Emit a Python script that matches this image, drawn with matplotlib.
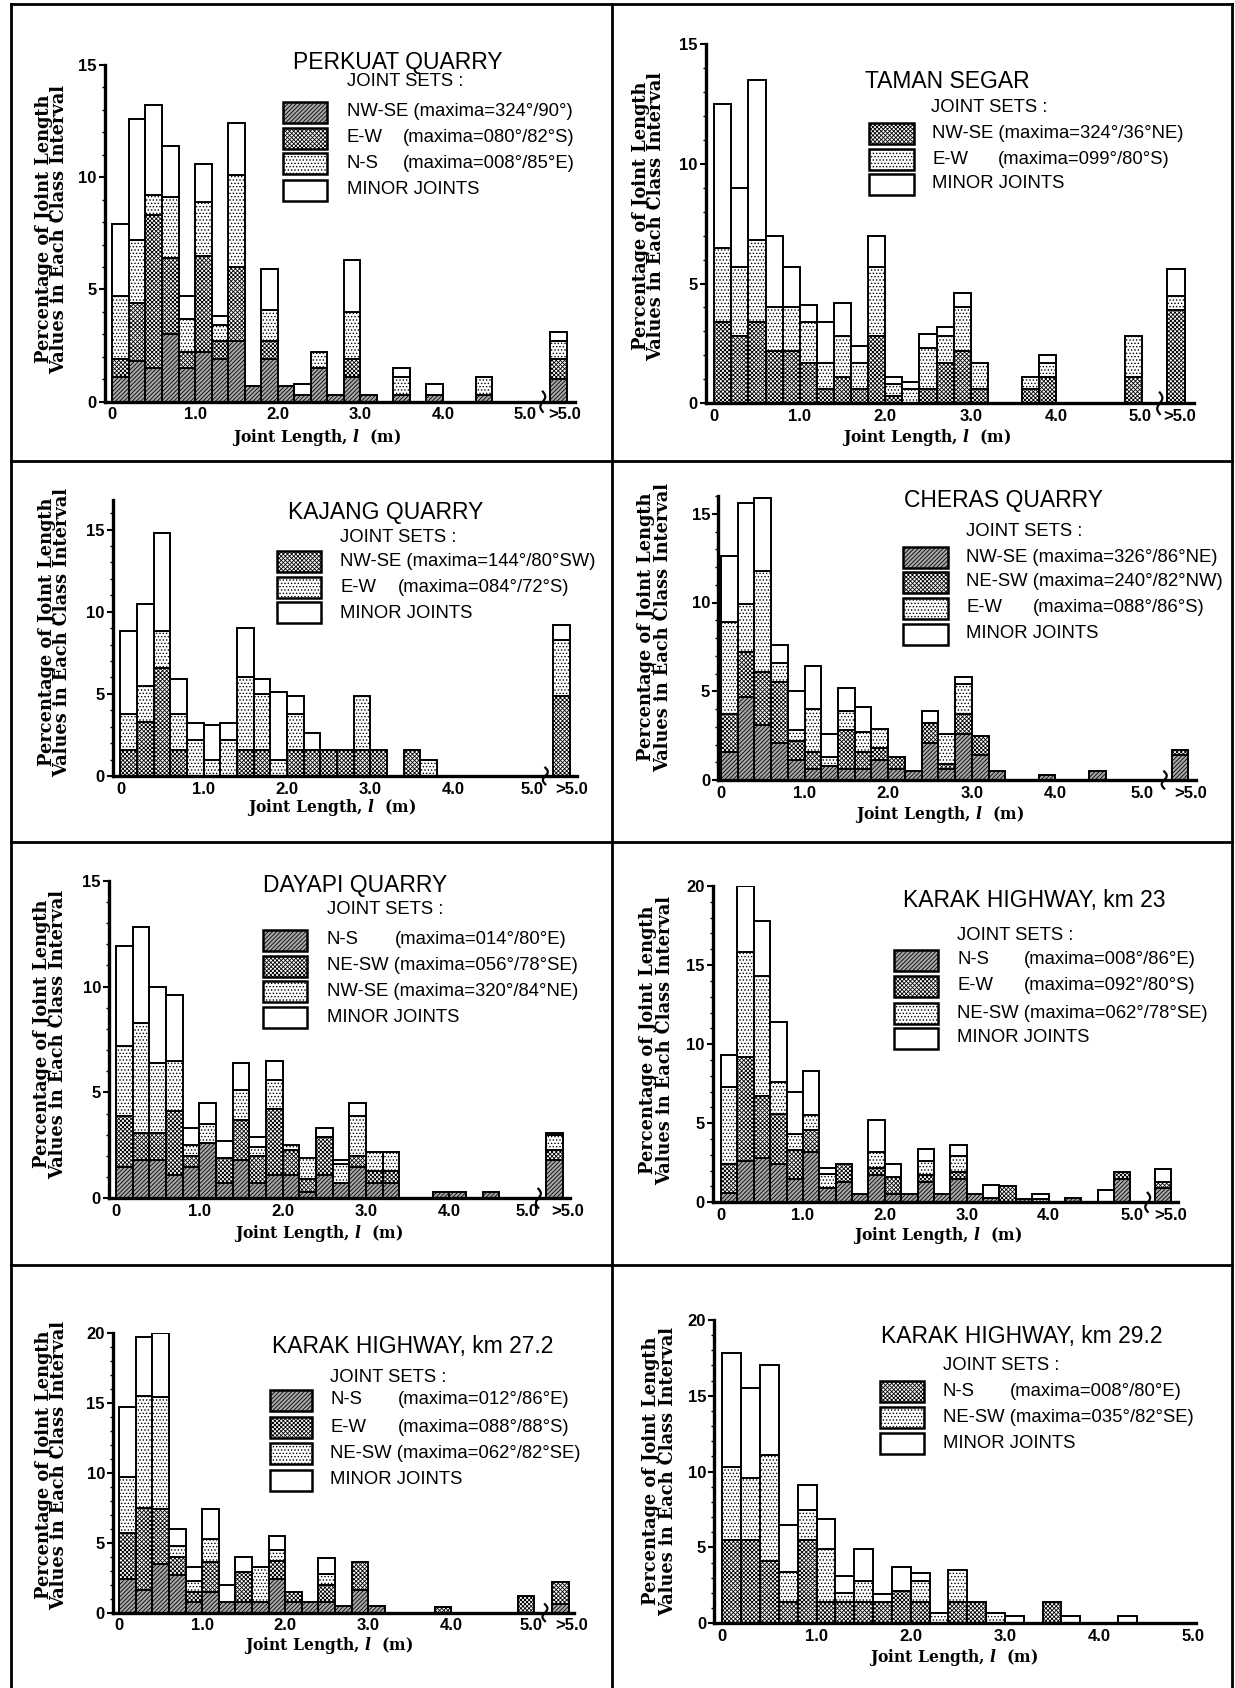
import numpy as np
import matplotlib

matplotlib.use("Agg")
import matplotlib.pyplot as plt  # noqa: E402
from matplotlib.lines import Line2D
from matplotlib.patches import Rectangle
from matplotlib.ticker import MultipleLocator
from matplotlib.transforms import blended_transform_factory

W, H = 1235, 1688

plt.rcParams["hatch.linewidth"] = 0.6
plt.rcParams["mathtext.fontset"] = "custom"
plt.rcParams["mathtext.it"] = "DejaVu Serif:italic:bold"
plt.rcParams["mathtext.rm"] = "DejaVu Serif:bold"

SANS = "Liberation Sans"
SERIF = "DejaVu Serif"
HATCH = {"dark": "/" * 8, "cross": "x" * 8, "light": "." * 5, "white": ""}
FILL = {"dark": "#a8a8a8", "cross": "white", "light": "white", "white": "white"}

# class intervals of 0.2 m, last value in each list is the ">5.0" class
bin_left = [round(0.2 * i, 1) for i in range(25)]

# PERKUAT QUARRY
perkuat_nwse = [1.1, 1.8, 1.5, 3.0, 1.5, 2.2, 1.9, 2.7, 0.7, 1.9, 0.7, 0.3, 1.5, 0.3, 1.1, 0.3, 0, 0.3, 0, 0.3, 0, 0, 0.3, 0, 0, 1.0]
perkuat_ew = [0.8, 2.6, 6.8, 3.4, 0.7, 4.3, 0.8, 3.3, 0, 0.8, 0, 0, 0, 0, 0.8, 0, 0, 0, 0, 0, 0, 0, 0, 0, 0, 0.9]
perkuat_ns = [2.8, 2.8, 0.9, 2.7, 1.5, 2.4, 0.7, 4.1, 0, 1.4, 0, 0, 0.7, 0, 2.1, 0, 0, 0.8, 0, 0, 0, 0, 0.8, 0, 0, 0.8]
perkuat_minor = [3.2, 5.4, 4.0, 2.3, 1.0, 1.7, 0.4, 2.3, 0, 1.8, 0, 0.5, 0, 0, 2.3, 0, 0, 0.4, 0, 0.5, 0, 0, 0, 0, 0, 0.4]

# TAMAN SEGAR
taman_nwse = [3.4, 2.8, 3.4, 2.2, 2.2, 1.7, 0.6, 1.1, 0.6, 2.8, 0.3, 0, 0.6, 1.7, 2.2, 0.6, 0, 0, 0.6, 1.1, 0, 0, 0, 0, 1.1, 3.9]
taman_ew = [3.1, 2.9, 3.4, 1.8, 1.8, 1.7, 1.1, 1.7, 1.1, 2.9, 0.5, 0.6, 1.7, 1.1, 1.8, 1.1, 0, 0, 0.5, 0.6, 0, 0, 0, 0, 1.7, 0.6]
taman_minor = [6.0, 3.3, 6.7, 3.0, 1.7, 0.7, 1.7, 1.4, 0.7, 1.3, 0.3, 0.3, 0.6, 0.4, 0.6, 0, 0, 0, 0, 0.3, 0, 0, 0, 0, 0, 1.1]

# KAJANG QUARRY
kajang_nwse = [1.6, 3.3, 6.6, 1.6, 0, 0, 0, 1.6, 1.6, 0, 1.6, 1.6, 1.6, 1.6, 1.6, 1.6, 0, 1.6, 0, 0, 0, 0, 0, 0, 0, 4.9]
kajang_ew = [2.2, 2.2, 2.2, 2.2, 2.2, 1.0, 2.2, 4.4, 3.4, 1.0, 2.2, 0, 0, 0, 3.3, 0, 0, 0, 1.0, 0, 0, 0, 0, 0, 0, 3.4]
kajang_minor = [5.0, 5.0, 6.0, 2.1, 1.0, 2.1, 1.0, 3.0, 0.9, 4.1, 1.1, 1.0, 0, 0, 0, 0, 0, 0, 0, 0, 0, 0, 0, 0, 0, 0.9]

# CHERAS QUARRY
cheras_nwse = [1.6, 4.7, 3.1, 2.1, 1.1, 0.6, 0.8, 0.6, 0.6, 1.1, 0.6, 0.5, 2.1, 0.6, 2.6, 1.4, 0.5, 0, 0, 0.3, 0, 0, 0.5, 0, 0, 1.4]
cheras_nesw = [2.1, 2.5, 3.0, 3.4, 1.1, 1.0, 0, 2.2, 1.0, 0.7, 0.7, 0, 1.1, 0.3, 1.1, 1.1, 0, 0, 0, 0, 0, 0, 0, 0, 0, 0.3]
cheras_ew = [5.2, 2.7, 5.7, 1.1, 0.6, 2.4, 0.5, 1.1, 1.1, 1.1, 0, 0, 0, 1.7, 1.7, 0, 0, 0, 0, 0, 0, 0, 0, 0, 0, 0]
cheras_minor = [3.7, 5.7, 4.1, 1.0, 2.2, 2.4, 1.3, 1.3, 1.4, 0, 0, 0, 0.7, 0, 0.4, 0, 0, 0, 0, 0, 0, 0, 0, 0, 0, 0]

# DAYAPI QUARRY
dayapi_ns = [1.5, 1.8, 1.8, 1.1, 1.5, 2.6, 0.7, 1.8, 0.7, 1.1, 1.1, 0.3, 1.1, 0.7, 1.5, 0.7, 0.7, 0, 0, 0.3, 0.3, 0, 0.3, 0, 0, 1.8]
dayapi_nesw = [2.4, 1.3, 1.3, 3.0, 0.5, 0, 1.2, 1.9, 1.3, 3.1, 1.2, 0.6, 1.8, 0, 0.5, 0.6, 0.6, 0, 0, 0, 0, 0, 0, 0, 0, 0.5]
dayapi_nwse = [3.3, 5.2, 3.3, 2.4, 0.5, 0.9, 0, 1.4, 0.4, 1.4, 0.2, 1.0, 0, 0.9, 1.9, 0.9, 0.9, 0, 0, 0, 0, 0, 0, 0, 0, 0.7]
dayapi_minor = [4.7, 4.5, 3.6, 3.1, 0.8, 1.0, 0.8, 1.3, 0.5, 0.9, 0, 0, 0.4, 0.2, 0.6, 0, 0, 0, 0, 0, 0, 0, 0, 0, 0, 0.1]

# KARAK HIGHWAY, km 23
k23_ns = [0.6, 2.6, 2.8, 2.4, 1.5, 3.2, 0.9, 1.3, 0.5, 1.7, 0.5, 0.5, 1.3, 0.5, 1.5, 0.5, 0.3, 0, 0.2, 0, 0, 0.3, 0, 0, 1.5, 0.9]
k23_ew = [1.8, 6.6, 3.9, 3.2, 1.8, 1.4, 0, 1.1, 0, 0.5, 1.1, 0, 0.4, 0, 0.4, 0, 0, 1.0, 0, 0, 0, 0, 0, 0, 0.4, 0.4]
k23_nesw = [4.9, 6.6, 7.6, 2.0, 1.0, 0.9, 0.9, 0, 0, 1.0, 0, 0, 0.9, 0, 1.0, 0, 0, 0, 0, 0.2, 0, 0, 0, 0, 0, 0]
k23_minor = [2.0, 4.2, 3.5, 3.8, 2.7, 2.8, 0.4, 0, 0, 2.0, 0.8, 0, 0.8, 0, 0.7, 0, 0.8, 0, 0, 0.3, 0, 0, 0, 0.8, 0, 0.8]

# KARAK HIGHWAY, km 27.2
k27_ns = [2.4, 1.6, 3.5, 2.7, 0.8, 1.5, 0.8, 0.8, 0.8, 2.4, 0.8, 0.8, 0.8, 0.5, 1.6, 0.5, 0, 0, 0, 0, 0, 0, 0, 0, 0, 0.6]
k27_ew = [3.3, 5.9, 3.9, 1.3, 0.7, 2.1, 0, 2.1, 0, 1.3, 0.7, 0, 1.2, 0, 2.0, 0, 0, 0, 0, 0.4, 0, 0, 0, 0, 1.2, 1.6]
k27_nesw = [4.0, 8.0, 8.0, 0.8, 0.8, 1.7, 0, 0, 2.5, 0.8, 0, 0, 0.8, 0, 0, 0, 0, 0, 0, 0, 0, 0, 0, 0, 0, 0]
k27_minor = [5.0, 4.2, 4.6, 1.2, 1.0, 2.1, 1.2, 1.1, 0, 1.0, 0, 0, 1.1, 0, 0, 0, 0, 0, 0, 0, 0, 0, 0, 0, 0, 0]

# KARAK HIGHWAY, km 29.2 (no ">5.0" class)
k29_ns = [5.5, 5.5, 4.1, 1.4, 5.5, 1.4, 1.4, 1.4, 1.4, 2.1, 1.4, 0, 1.4, 1.4, 0, 0, 0, 1.4, 0, 0, 0, 0, 0, 0, 0]
k29_nesw = [4.8, 4.1, 7.0, 2.0, 2.0, 3.5, 0.6, 1.4, 0, 0, 1.4, 0.7, 2.1, 0, 0.7, 0, 0, 0, 0, 0, 0, 0, 0, 0, 0]
k29_minor = [7.5, 5.9, 5.9, 3.1, 1.6, 2.0, 1.1, 2.1, 0.5, 1.6, 0.5, 0, 0, 0, 0, 0.5, 0, 0, 0.5, 0, 0, 0.5, 0, 0, 0]

panels = [
    dict(title="PERKUAT QUARRY",
         sets=[("NW-SE", "(maxima=324°/90°)", perkuat_nwse, "dark"),
               ("E-W", "(maxima=080°/82°S)", perkuat_ew, "cross"),
               ("N-S", "(maxima=008°/85°E)", perkuat_ns, "light"),
               ("MINOR JOINTS", None, perkuat_minor, "white")],
         box=(105, 65, 575, 401.7), xlim=(-0.09, 5.6), ymax=15, gt5=5.3, gt5_lab=5.47, five=5.0,
         title_xy=(293, 63), joint_xy=(347, 82), leg_x=(283, 327, 347, 403),
         rows=[112, 138, 163, 190], ylab=(49, 64, 229), xlab=(316, 437)),
    dict(title="TAMAN SEGAR",
         sets=[("NW-SE", "(maxima=324°/36°NE)", taman_nwse, "cross"),
               ("E-W", "(maxima=099°/80°S)", taman_ew, "light"),
               ("MINOR JOINTS", None, taman_minor, "white")],
         box=(705.7, 44, 1194, 403.3), xlim=(-0.1, 5.61), ymax=15, gt5=5.3, gt5_lab=5.44, five=4.98,
         title_xy=(865, 82), joint_xy=(931, 107), leg_x=(869, 914, 932, 998),
         rows=[133, 159, 184], ylab=(646, 661, 216), xlab=(926, 438)),
    dict(title="KAJANG QUARRY",
         sets=[("NW-SE", "(maxima=144°/80°SW)", kajang_nwse, "cross"),
               ("E-W", "(maxima=084°/72°S)", kajang_ew, "light"),
               ("MINOR JOINTS", None, kajang_minor, "white")],
         box=(113, 500, 577, 776), xlim=(-0.09, 5.48), ymax=16.8, gt5=5.19, gt5_lab=5.42, five=4.94,
         title_xy=(288, 512), joint_xy=(340, 537), leg_x=(277, 321, 340, 398),
         rows=[561, 587, 613], ylab=(52, 67, 632), xlab=(331, 808)),
    dict(title="CHERAS QUARRY",
         sets=[("NW-SE", "(maxima=326°/86°NE)", cheras_nwse, "dark"),
               ("NE-SW", "(maxima=240°/82°NW)", cheras_nesw, "cross"),
               ("E-W", "(maxima=088°/86°S)", cheras_ew, "light"),
               ("MINOR JOINTS", None, cheras_minor, "white")],
         box=(718.4, 496, 1196, 780), xlim=(-0.03, 5.68), ymax=16, gt5=5.39, gt5_lab=5.62, five=5.04,
         title_xy=(904, 501), joint_xy=(966, 532), leg_x=(903, 948, 966, 1033),
         rows=[557, 582, 608, 634], ylab=(651, 668, 627), xlab=(939, 814)),
    dict(title="DAYAPI QUARRY",
         sets=[("N-S", "(maxima=014°/80°E)", dayapi_ns, "dark"),
               ("NE-SW", "(maxima=056°/78°SE)", dayapi_nesw, "cross"),
               ("NW-SE", "(maxima=320°/84°NE)", dayapi_nwse, "light"),
               ("MINOR JOINTS", None, dayapi_minor, "white")],
         box=(109.3, 880.7, 570, 1198.3), xlim=(-0.08, 5.45), ymax=15, gt5=5.16, gt5_lab=5.42, five=4.93,
         title_xy=(263, 885), joint_xy=(327, 910), leg_x=(263, 307, 327, 395),
         rows=[940, 966, 992, 1017], ylab=(47, 63, 1034), xlab=(318, 1233)),
    dict(title="KARAK HIGHWAY, km 23",
         sets=[("N-S", "(maxima=008°/86°E)", k23_ns, "dark"),
               ("E-W", "(maxima=092°/80°S)", k23_ew, "cross"),
               ("NE-SW", "(maxima=062°/78°SE)", k23_nesw, "light"),
               ("MINOR JOINTS", None, k23_minor, "white")],
         box=(712.8, 886, 1178, 1202.3), xlim=(-0.1, 5.58), ymax=20, gt5=5.3, gt5_lab=5.49, five=5.02,
         title_xy=(903, 900), joint_xy=(957, 935), leg_x=(894, 938, 957, 1024),
         rows=[960, 986, 1013, 1038], ylab=(653, 670, 1040), xlab=(937, 1236)),
    dict(title="KARAK HIGHWAY, km 27.2",
         sets=[("N-S", "(maxima=012°/86°E)", k27_ns, "dark"),
               ("E-W", "(maxima=088°/88°S)", k27_ew, "cross"),
               ("NE-SW", "(maxima=062°/82°SE)", k27_nesw, "light"),
               ("MINOR JOINTS", None, k27_minor, "white")],
         box=(113.3, 1332.7, 574, 1612.7), xlim=(-0.07, 5.48), ymax=20, gt5=5.22, gt5_lab=5.45, five=4.96,
         title_xy=(272, 1347), joint_xy=(330, 1377), leg_x=(270, 312, 330, 398),
         rows=[1400, 1427, 1453, 1480], ylab=(49, 64, 1465), xlab=(328, 1645)),
    dict(title="KARAK HIGHWAY, km 29.2",
         sets=[("N-S", "(maxima=008°/80°E)", k29_ns, "cross"),
               ("NE-SW", "(maxima=035°/82°SE)", k29_nesw, "light"),
               ("MINOR JOINTS", None, k29_minor, "white")],
         box=(714.4, 1320, 1196, 1623.3), xlim=(-0.085, 5.03), ymax=20, gt5=None, gt5_lab=None, five=5.0,
         title_xy=(881, 1337), joint_xy=(943, 1365), leg_x=(880, 924, 943, 1010),
         rows=[1391, 1417, 1443], ylab=(656, 673, 1471), xlab=(953, 1658)),
]


def fx(px):
    return px / W


def fy(py):
    return 1 - py / H


fig = plt.figure(figsize=(W / 100, H / 100), dpi=100)

for p in panels:
    l, t, r, b = p["box"]
    ax = fig.add_axes([fx(l), fy(b), (r - l) / W, (b - t) / H])

    n = len(p["sets"][0][2])
    xs = list(bin_left)
    if p["gt5"] is not None:
        xs = xs + [p["gt5"]]
    xs = np.array(xs[:n])
    bottom = np.zeros(n)
    for name, maxima, vals, style in p["sets"]:
        vals = np.array(vals, dtype=float)
        m = vals > 0
        ax.bar(xs[m], vals[m], bottom=bottom[m], width=0.2, align="edge",
               facecolor=FILL[style], edgecolor="black", hatch=HATCH[style], lw=1.4)
        bottom += vals

    ax.set_xlim(*p["xlim"])
    ax.set_ylim(0, p["ymax"])
    for s in ("top", "right"):
        ax.spines[s].set_visible(False)
    for s in ("left", "bottom"):
        ax.spines[s].set_linewidth(2.4)

    top_tick = int(p["ymax"] // 5 * 5)
    ax.set_yticks(range(0, top_tick + 1, 5))
    ax.set_yticklabels([str(v) for v in range(0, top_tick + 1, 5)],
                       fontfamily=SANS, fontweight="bold", fontsize=12)
    ax.yaxis.set_minor_locator(MultipleLocator(1))
    ax.tick_params(axis="y", which="major", direction="out", length=4, width=1.5, pad=2)
    ax.tick_params(axis="y", which="minor", direction="out", length=2, width=1)

    xt = [0, 1, 2, 3, 4, p["five"]]
    xl = ["0", "1.0", "2.0", "3.0", "4.0", "5.0"]
    if p["gt5"] is not None:
        xt.append(p["gt5_lab"])
        xl.append(">5.0")
    ax.set_xticks(xt)
    ax.set_xticklabels(xl, fontfamily=SANS, fontweight="bold", fontsize=12)
    ax.tick_params(axis="x", length=0, pad=4)

    # axis break mark before the ">5.0" class
    if p["gt5"] is not None:
        tr = blended_transform_factory(ax.transData, ax.transAxes)
        tt = np.linspace(-1, 1, 40)
        xb = p["gt5"] - 0.09
        ax.plot(xb + 0.03 * np.sin(np.pi * tt), 0.03 * tt, color="black", lw=1.6,
                transform=tr, clip_on=False)

    # titles and legend
    fig.text(fx(p["title_xy"][0]), fy(p["title_xy"][1]), p["title"], fontsize=16.5,
             family=SANS, ha="left", va="center")
    fig.text(fx(p["joint_xy"][0]), fy(p["joint_xy"][1]), "JOINT SETS :", fontsize=13.3,
             family=SANS, ha="left", va="center")
    bx0, bx1, tx, mx = p["leg_x"]
    for (name, maxima, vals, style), yc in zip(p["sets"], p["rows"]):
        fig.add_artist(Rectangle((fx(bx0), fy(yc + 10.5)), (bx1 - bx0) / W, 21 / H,
                                 transform=fig.transFigure, facecolor=FILL[style],
                                 edgecolor="black", lw=1.8, hatch=HATCH[style]))
        if maxima is None:
            fig.text(fx(tx), fy(yc), name, fontsize=13.3, family=SANS, ha="left", va="center")
        elif len(name) > 3:
            fig.text(fx(tx), fy(yc), name + " " + maxima, fontsize=13.3, family=SANS,
                     ha="left", va="center")
        else:
            fig.text(fx(tx), fy(yc), name, fontsize=13.3, family=SANS, ha="left", va="center")
            fig.text(fx(mx), fy(yc), maxima, fontsize=13.3, family=SANS, ha="left", va="center")

    # axis titles
    x1, x2, yc = p["ylab"]
    fig.text(fx(x1), fy(yc), "Percentage of Joint Length", rotation=90, rotation_mode="anchor",
             ha="center", va="baseline", family=SERIF, fontweight="bold", fontsize=12.8)
    fig.text(fx(x2), fy(yc), "Values in Each Class Interval", rotation=90, rotation_mode="anchor",
             ha="center", va="baseline", family=SERIF, fontweight="bold", fontsize=12.8)
    fig.text(fx(p["xlab"][0]), fy(p["xlab"][1]), r"Joint Length, $\mathit{l}$  (m)",
             ha="center", va="center", family=SERIF, fontweight="bold", fontsize=11.2)

# panel frame
frame = [((11, 4), (11, H)), ((1232, 4), (1232, H)), ((11, 4), (1232, 4)),
         ((612, 4), (612, H)), ((11, 461), (1232, 461)), ((11, 842), (1232, 842)),
         ((11, 1265), (1232, 1265))]
for (xa, ya), (xb_, yb) in frame:
    fig.add_artist(Line2D([fx(xa), fx(xb_)], [fy(ya), fy(yb)], transform=fig.transFigure,
                          color="black", lw=2))

fig.savefig("out.png", dpi=100, facecolor="white")
